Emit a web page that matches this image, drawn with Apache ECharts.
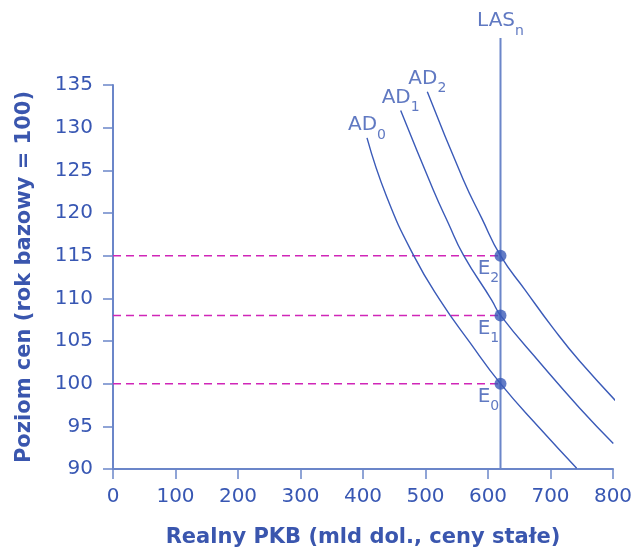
<!DOCTYPE html>
<html><head><meta charset="utf-8">
<script src="https://cdn.jsdelivr.net/npm/echarts@6/dist/echarts.min.js"></script>
<style>html,body{margin:0;padding:0;background:#fff}#c{width:631px;height:548px}</style>
</head><body><div id="c"></div>
<script>
// Data
const ad0 = [[406.4,128.8],[437.9,121.9],[480.5,115.1],[523.2,109.8],[571.2,104.8],[620,100],[683.2,94.75],[741.9,90.1]];
const ad1 = [[460.3,132.0],[512.5,122.7],[536.5,118.8],[560.5,115.1],[605.9,109.8],[620,108],[683.2,102.45],[747.2,97.1],[800.5,93.0]];
const ad2 = [[502.9,134.2],[560.5,123.9],[589.9,119.4],[620,115],[659.2,111.0],[703.2,106.6],[747.2,102.6],[828.8,96.1]];
const curveNames = ['0','1','2'];
const lasX = 620;
const lasRange = [90, 140.5];
const eqPrices = [100, 108, 115];
const eqSubs = ['0','1','2'];

const textColor = '#3857b3';
const titleColor = '#3a56ae';
const axisColor = '#6b86c9';
const curveColor = '#3a5ab8';
const dashColor = '#d026b8';
const FONT = 'DejaVu Sans';

const rich = {
  m: {fontSize: 20, fontFamily: FONT, color: textColor, lineHeight: 22, verticalAlign: 'top'},
  s: {fontSize: 14, fontFamily: FONT, color: textColor, lineHeight: 14, verticalAlign: 'top', padding: [13,0,0,0]}
};

const curves = [ad0, ad1, ad2];
const series = [];

eqPrices.forEach(p => {
  series.push({
    type: 'line', data: [[0, p], [lasX, p]], symbol: 'none', silent: true,
    lineStyle: {color: dashColor, width: 1.5, type: [8, 5]}, z: 1
  });
});

series.push({
  type: 'line', data: [[lasX, lasRange[0]], [lasX, lasRange[1]]], symbol: 'none', clip: false,
  lineStyle: {color: axisColor, width: 2}, z: 2,
});

curves.forEach((c, i) => {
  series.push({
    type: 'line', data: c, symbol: 'none', smooth: 0.5, clip: false,
    lineStyle: {color: curveColor, width: 1.4}, z: 3
  });
});

// curve labels at the top end of each curve
series.push({
  type: 'scatter', symbolSize: 0, z: 5, silent: true,
  data: curves.map((c, i) => ({value: c[0], name: curveNames[i]})),
  label: {show: true, position: 'top', distance: 1,
    formatter: p => '{m|AD}{s|' + p.name + '}', rich: rich}
});
// LAS label
series.push({
  type: 'scatter', symbolSize: 0, z: 5, silent: true, clip: false,
  data: [{value: [lasX, lasRange[1]], name: 'n'}],
  label: {show: true, position: 'top', distance: 5,
    formatter: p => '{m|LAS}{s|' + p.name + '}', rich: rich}
});
// equilibrium points
series.push({
  type: 'scatter', symbol: 'circle', symbolSize: 12, z: 6,
  itemStyle: {color: curveColor},
  data: eqPrices.map((p, i) => ({value: [lasX, p], name: eqSubs[i]})),
  label: {show: true, position: 'bottom', distance: 0, offset: [-12, -3],
    formatter: p => '{m|E}{s|' + p.name + '}', rich: rich}
});

const chart = echarts.init(document.getElementById('c'));
chart.setOption({
  animation: false,
  grid: {left: 113, right: 18, top: 85, bottom: 79, containLabel: false, outerBoundsMode: 'none'},
  xAxis: {
    type: 'value', min: 0, max: 800, interval: 100,
    name: 'Realny PKB (mld dol., ceny stałe)', nameLocation: 'middle', nameGap: 58,
    nameTextStyle: {fontFamily: FONT, fontSize: 21, fontWeight: 'bold', color: titleColor},
    axisLine: {show: true, lineStyle: {color: axisColor, width: 2}},
    axisTick: {show: true, length: 10, lineStyle: {color: axisColor, width: 1.5}},
    axisLabel: {fontFamily: FONT, fontSize: 20, color: textColor, margin: 18},
    splitLine: {show: false}
  },
  yAxis: {
    type: 'value', min: 90, max: 135, interval: 5,
    name: 'Poziom cen (rok bazowy = 100)', nameLocation: 'middle', nameGap: 78,
    nameTextStyle: {fontFamily: FONT, fontSize: 21, fontWeight: 'bold', color: titleColor},
    axisLine: {show: true, lineStyle: {color: axisColor, width: 2}},
    axisTick: {show: true, length: 10, lineStyle: {color: axisColor, width: 1.5}},
    axisLabel: {fontFamily: FONT, fontSize: 20, color: textColor, margin: 20},
    splitLine: {show: false}
  },
  series: series
});
</script></body></html>
